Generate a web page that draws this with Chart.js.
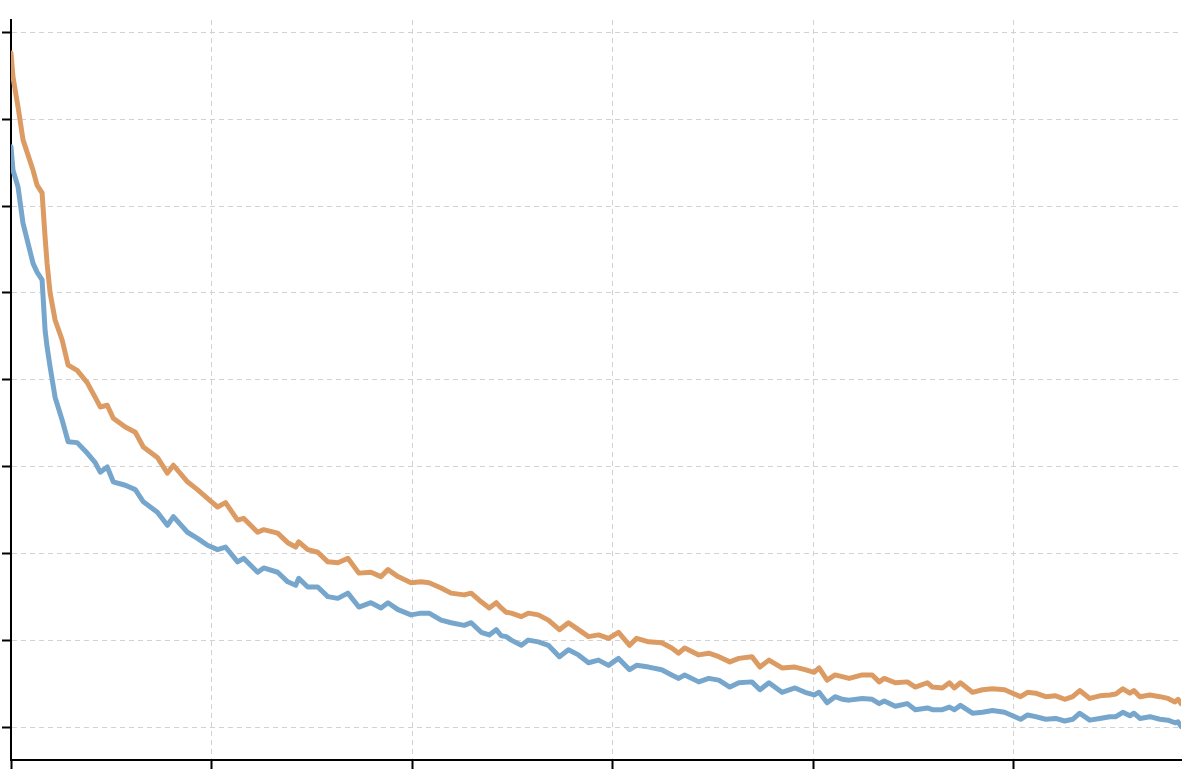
<!DOCTYPE html>
<html>
<head>
<meta charset="utf-8">
<script src="https://cdn.jsdelivr.net/npm/chart.js@4"></script>
<style>
  html, body { margin: 0; padding: 0; background: #fff; }
  canvas { display: block; }
</style>
</head>
<body>
<canvas id="chart" width="1187" height="774"></canvas>
<script>
// ---- data ----
const steps = [0, 2, 7, 12, 22, 26, 31, 34, 36, 39, 44, 51, 57, 66, 76, 84, 89, 96, 102, 114,
  124, 132, 146, 156, 162, 176, 186, 196, 206, 214, 226, 232, 246, 252, 266, 276, 284, 287, 296, 306,
  316, 326, 336, 347, 359, 369, 376, 386, 399, 409, 417, 429, 439, 452, 459, 469, 477, 484, 489, 494,
  499, 509, 516, 526, 536, 547, 556, 566, 576, 586, 596, 606, 617, 624, 636, 649, 659, 666, 672, 686,
  696, 706, 717, 726, 739, 747, 756, 769, 782, 792, 801, 806, 814, 822, 829, 836, 849, 859, 866, 871,
  882, 894, 902, 914, 919, 929, 936, 941, 947, 959, 969, 979, 991, 999, 1007, 1014, 1022, 1032, 1042, 1051,
  1059, 1066, 1076, 1086, 1096, 1102, 1109, 1116, 1120, 1126, 1136, 1146, 1154, 1161, 1164, 1167];

const orangeSeries = [7.76, 7.48, 7.14, 6.76, 6.41, 6.24, 6.15, 5.64, 5.34, 5.00, 4.69, 4.46, 4.17, 4.11, 3.97, 3.80, 3.69, 3.71, 3.56, 3.46,
  3.40, 3.23, 3.11, 2.93, 3.02, 2.83, 2.74, 2.64, 2.54, 2.59, 2.39, 2.41, 2.25, 2.28, 2.24, 2.13, 2.08, 2.14, 2.05, 2.02,
  1.91, 1.90, 1.95, 1.78, 1.79, 1.74, 1.82, 1.74, 1.67, 1.68, 1.67, 1.61, 1.55, 1.53, 1.55, 1.45, 1.38, 1.44, 1.38, 1.33,
  1.32, 1.28, 1.32, 1.30, 1.24, 1.13, 1.21, 1.13, 1.05, 1.07, 1.03, 1.10, 0.95, 1.03, 0.99, 0.98, 0.92, 0.86, 0.92, 0.84,
  0.86, 0.82, 0.76, 0.80, 0.82, 0.70, 0.78, 0.69, 0.70, 0.67, 0.64, 0.69, 0.55, 0.61, 0.59, 0.57, 0.61, 0.61, 0.53, 0.57,
  0.52, 0.53, 0.47, 0.52, 0.47, 0.46, 0.52, 0.46, 0.52, 0.41, 0.44, 0.45, 0.44, 0.40, 0.36, 0.41, 0.40, 0.36, 0.37, 0.33,
  0.36, 0.43, 0.34, 0.37, 0.38, 0.39, 0.45, 0.40, 0.43, 0.36, 0.38, 0.36, 0.34, 0.30, 0.33, 0.28];

const blueSeries = [6.68, 6.41, 6.22, 5.80, 5.34, 5.24, 5.15, 4.57, 4.38, 4.15, 3.80, 3.54, 3.29, 3.28, 3.16, 3.05, 2.94, 3.00, 2.83, 2.79,
  2.74, 2.60, 2.48, 2.33, 2.43, 2.25, 2.18, 2.10, 2.05, 2.08, 1.91, 1.95, 1.79, 1.84, 1.79, 1.68, 1.64, 1.72, 1.62, 1.62,
  1.51, 1.49, 1.55, 1.39, 1.44, 1.38, 1.44, 1.36, 1.30, 1.32, 1.32, 1.24, 1.21, 1.18, 1.21, 1.10, 1.07, 1.13, 1.06, 1.05,
  1.01, 0.95, 1.01, 0.99, 0.95, 0.82, 0.90, 0.84, 0.75, 0.78, 0.72, 0.80, 0.67, 0.72, 0.70, 0.67, 0.61, 0.57, 0.61, 0.53,
  0.57, 0.55, 0.47, 0.52, 0.53, 0.44, 0.52, 0.41, 0.46, 0.41, 0.38, 0.41, 0.29, 0.36, 0.33, 0.32, 0.34, 0.33, 0.28, 0.31,
  0.25, 0.28, 0.21, 0.23, 0.21, 0.21, 0.24, 0.21, 0.26, 0.17, 0.18, 0.20, 0.18, 0.14, 0.10, 0.15, 0.13, 0.10, 0.11, 0.08,
  0.10, 0.17, 0.09, 0.11, 0.13, 0.13, 0.18, 0.14, 0.17, 0.11, 0.13, 0.10, 0.09, 0.06, 0.07, 0.02];

const xTicks = [0, 200, 400, 600, 800, 1000];
const yTicks = [0, 1, 2, 3, 4, 5, 6, 7, 8];

// ---- chart ----
const toPoints = (ys) => ys.map((y, i) => ({ x: steps[i], y }));

const gridOpts = {
  color: '#d2d2d2',
  lineWidth: 1,
  drawTicks: true,
  tickLength: 9,
  tickWidth: 2,
  tickColor: '#000000',
  tickBorderDash: []
};

new Chart(document.getElementById('chart').getContext('2d'), {
  type: 'line',
  data: {
    datasets: [
      {
        data: toPoints(orangeSeries),
        borderColor: '#dc9b63',
        borderWidth: 5,
        pointRadius: 0,
        tension: 0,
        borderJoinStyle: 'round',
        borderCapStyle: 'round'
      },
      {
        data: toPoints(blueSeries),
        borderColor: '#77a6cd',
        borderWidth: 5,
        pointRadius: 0,
        tension: 0,
        borderJoinStyle: 'round',
        borderCapStyle: 'round'
      }
    ]
  },
  options: {
    responsive: false,
    animation: false,
    devicePixelRatio: 1,
    layout: { padding: { left: 2, top: 20, right: 6, bottom: 5 } },
    plugins: { legend: { display: false }, tooltip: { enabled: false } },
    scales: {
      x: {
        type: 'linear',
        min: 0,
        max: 1167,
        afterBuildTicks: (scale) => { scale.ticks = xTicks.map(v => ({ value: v })); },
        ticks: { display: false },
        grid: gridOpts,
        border: { display: true, color: '#000000', width: 2, dash: [5, 4] }
      },
      y: {
        type: 'linear',
        min: -0.368,
        max: 8.138,
        afterBuildTicks: (scale) => { scale.ticks = yTicks.map(v => ({ value: v })); },
        ticks: { display: false },
        grid: gridOpts,
        border: { display: true, color: '#000000', width: 2, dash: [5, 4] }
      }
    }
  }
});
</script>
</body>
</html>
